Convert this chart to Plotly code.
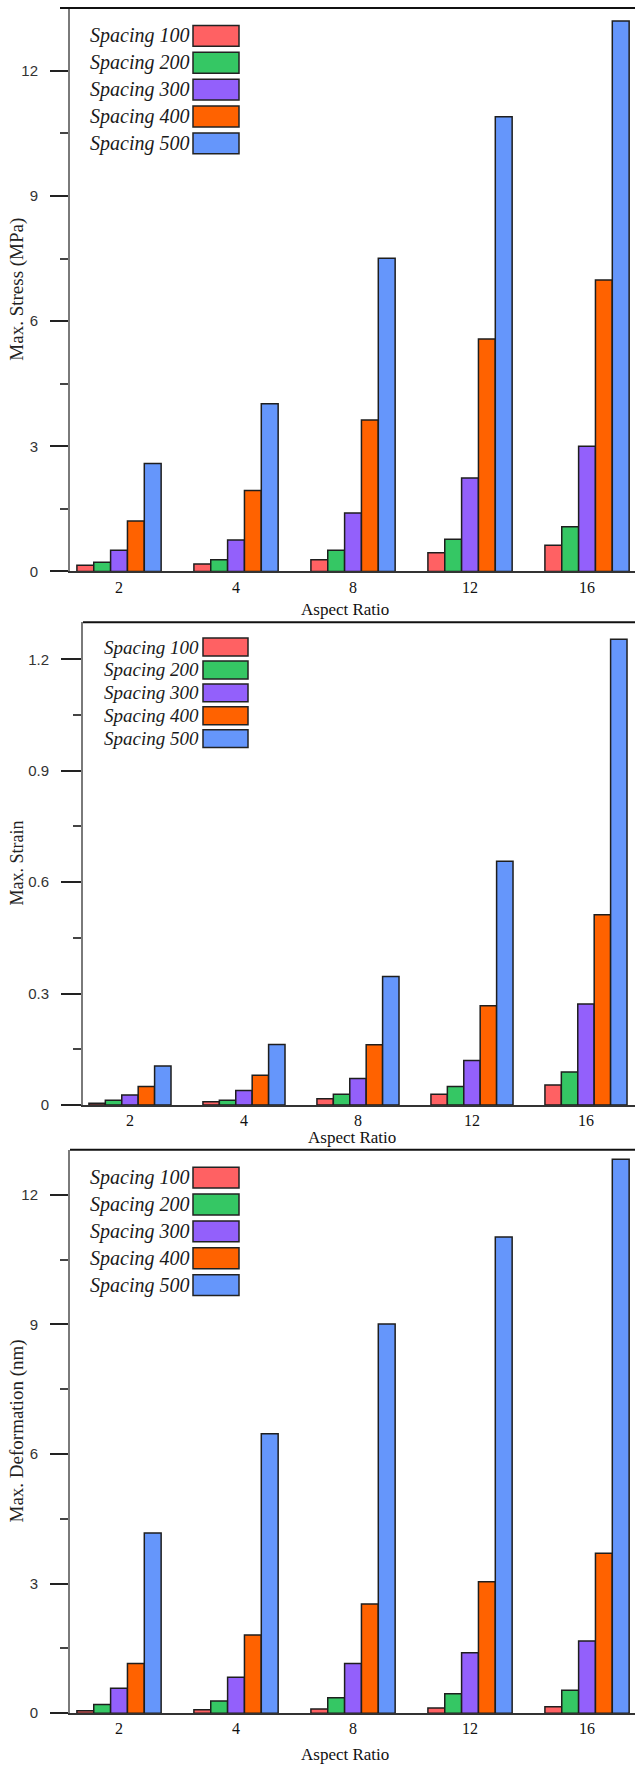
import plotly.graph_objects as go

# ---- data -------------------------------------------------------------
aspect_ratio = ["2", "4", "8", "12", "16"]
series_names = ["Spacing 100", "Spacing 200", "Spacing 300", "Spacing 400", "Spacing 500"]
series_colors = ["#FF6163", "#35C764", "#9360FB", "#FF6200", "#6596FB"]

# Max. stress (MPa)
stress_s100 = [0.15, 0.18, 0.28, 0.45, 0.63]
stress_s200 = [0.22, 0.28, 0.51, 0.77, 1.07]
stress_s300 = [0.51, 0.75, 1.40, 2.24, 3.00]
stress_s400 = [1.21, 1.94, 3.63, 5.57, 6.99]
stress_s500 = [2.59, 4.02, 7.51, 10.90, 13.20]

# Max. strain
strain_s100 = [0.005, 0.009, 0.017, 0.029, 0.054]
strain_s200 = [0.013, 0.013, 0.029, 0.050, 0.089]
strain_s300 = [0.027, 0.039, 0.071, 0.120, 0.272]
strain_s400 = [0.050, 0.080, 0.162, 0.267, 0.512]
strain_s500 = [0.105, 0.163, 0.346, 0.656, 1.254]

# Max. deformation (nm)
deform_s100 = [0.06, 0.08, 0.10, 0.12, 0.15]
deform_s200 = [0.20, 0.28, 0.36, 0.45, 0.53]
deform_s300 = [0.58, 0.83, 1.15, 1.40, 1.67]
deform_s400 = [1.15, 1.81, 2.53, 3.04, 3.70]
deform_s500 = [4.17, 6.47, 9.01, 11.02, 12.82]

stress = [stress_s100, stress_s200, stress_s300, stress_s400, stress_s500]
strain = [strain_s100, strain_s200, strain_s300, strain_s400, strain_s500]
deform = [deform_s100, deform_s200, deform_s300, deform_s400, deform_s500]

# ---- page geometry (pixels) -------------------------------------------
W, H = 635, 1771
SERIF = "Liberation Serif, Times New Roman, serif"
SANS = "Liberation Sans, Arial, sans-serif"


def px(x):
    return x / W


def py(y):
    return 1 - y / H


panels = [
    dict(values=stress, ytitle="Max. Stress (MPa)", left=70, top=8, bottom=574,
         yrange=[0, 13.51], xrange=[-0.419, 4.41], dtick=3, minor=1.5,
         ticklen=18, ytitle_x=17, ytitle_size=19, xtitle_xy=(345, 612),
         leg_text_x=191, leg_sw=(193, 239), leg_rows=[36, 63, 90, 117, 144], leg_h=21, leg_font=20),
    dict(values=strain, ytitle="Max. Strain", left=83, top=625, bottom=1110,
         yrange=[0, 1.30], xrange=[-0.412, 4.43], dtick=0.3, minor=0.15,
         ticklen=20, ytitle_x=17, ytitle_size=18, xtitle_xy=(352, 1143),
         leg_text_x=201, leg_sw=(203, 248), leg_rows=[650, 673, 696, 719, 742], leg_h=18, leg_font=19),
    dict(values=deform, ytitle="Max. Deformation (nm)", left=70, top=1155, bottom=1721,
         yrange=[0, 13.04], xrange=[-0.419, 4.41], dtick=3, minor=1.5,
         ticklen=18, ytitle_x=17, ytitle_size=19, xtitle_xy=(345, 1762),
         leg_text_x=191, leg_sw=(193, 239), leg_rows=[1183, 1210, 1237, 1264, 1291], leg_h=21, leg_font=20),
]

fig = go.Figure()
layout = dict(
    width=W, height=H,
    margin=dict(l=0, r=0, t=0, b=0),
    paper_bgcolor="white", plot_bgcolor="white",
    barmode="group", bargap=0.28, bargroupgap=0,
    showlegend=False,
    annotations=[], shapes=[],
)

for k, p in enumerate(panels, start=1):
    xa = "x" if k == 1 else f"x{k}"
    ya = "y" if k == 1 else f"y{k}"
    for name, color, vals in zip(series_names, series_colors, p["values"]):
        fig.add_trace(go.Bar(
            x=aspect_ratio, y=vals, name=name,
            marker=dict(color=color, line=dict(color="#1e1e1e", width=1.5)),
            xaxis=xa, yaxis=ya,
        ))

    layout["xaxis" if k == 1 else f"xaxis{k}"] = dict(
        domain=[px(p["left"]), 1.0], anchor=ya,
        type="category", range=p["xrange"],
        showline=True, linecolor="#333333", linewidth=2,
        mirror=False, ticks="", showgrid=False, zeroline=False,
        tickfont=dict(family=SERIF, size=16, color="#111111"),
        ticklabelstandoff=0,
    )
    layout["yaxis" if k == 1 else f"yaxis{k}"] = dict(
        domain=[py(p["bottom"]), py(p["top"])], anchor=xa,
        range=p["yrange"], dtick=p["dtick"], tick0=0,
        showline=True, linecolor="#7a7a7a", linewidth=2,
        ticks="outside", ticklen=p["ticklen"], tickwidth=1.5, tickcolor="#222222",
        minor=dict(dtick=p["minor"], tick0=0, ticks="outside", ticklen=8,
                   tickwidth=1.5, tickcolor="#444444"),
        showgrid=False, zeroline=False,
        tickfont=dict(family=SANS, size=15, color="#333333"),
        ticklabelstandoff=9,
    )

    # top frame line
    layout["shapes"].append(dict(
        type="line", xref="paper", yref="paper",
        x0=px(p["left"] - (10 if k == 1 else 0)), x1=1.0,
        y0=py(p["top"]), y1=py(p["top"]),
        line=dict(color="#111111", width=2),
    ))

    # axis titles
    layout["annotations"].append(dict(
        text=p["ytitle"], xref="paper", yref="paper",
        x=px(p["ytitle_x"]), y=py((p["top"] + p["bottom"]) / 2),
        xanchor="center", yanchor="middle", textangle=-90, showarrow=False,
        font=dict(family=SERIF, size=p["ytitle_size"], color="#222222"),
    ))
    tx, ty = p["xtitle_xy"]
    layout["annotations"].append(dict(
        text="Aspect Ratio", xref="paper", yref="paper",
        x=px(tx), y=py(ty), xanchor="center", yanchor="middle", showarrow=False,
        font=dict(family=SERIF, size=17, color="#111111"),
    ))

    # legend: italic label followed by a colour swatch
    sx0, sx1 = p["leg_sw"]
    for name, color, yc in zip(series_names, series_colors, p["leg_rows"]):
        layout["annotations"].append(dict(
            text=f"<i>{name}</i>", xref="paper", yref="paper",
            x=px(p["leg_text_x"]), y=py(yc), xanchor="right", yanchor="middle",
            showarrow=False,
            font=dict(family=SERIF, size=p["leg_font"], color="#1a1a1a"),
        ))
        layout["shapes"].append(dict(
            type="rect", xref="paper", yref="paper",
            x0=px(sx0), x1=px(sx1),
            y0=py(yc + p["leg_h"] / 2), y1=py(yc - p["leg_h"] / 2),
            fillcolor=color, line=dict(color="#222222", width=1.5),
        ))

fig.update_layout(**layout)
fig.write_html("out.html")
